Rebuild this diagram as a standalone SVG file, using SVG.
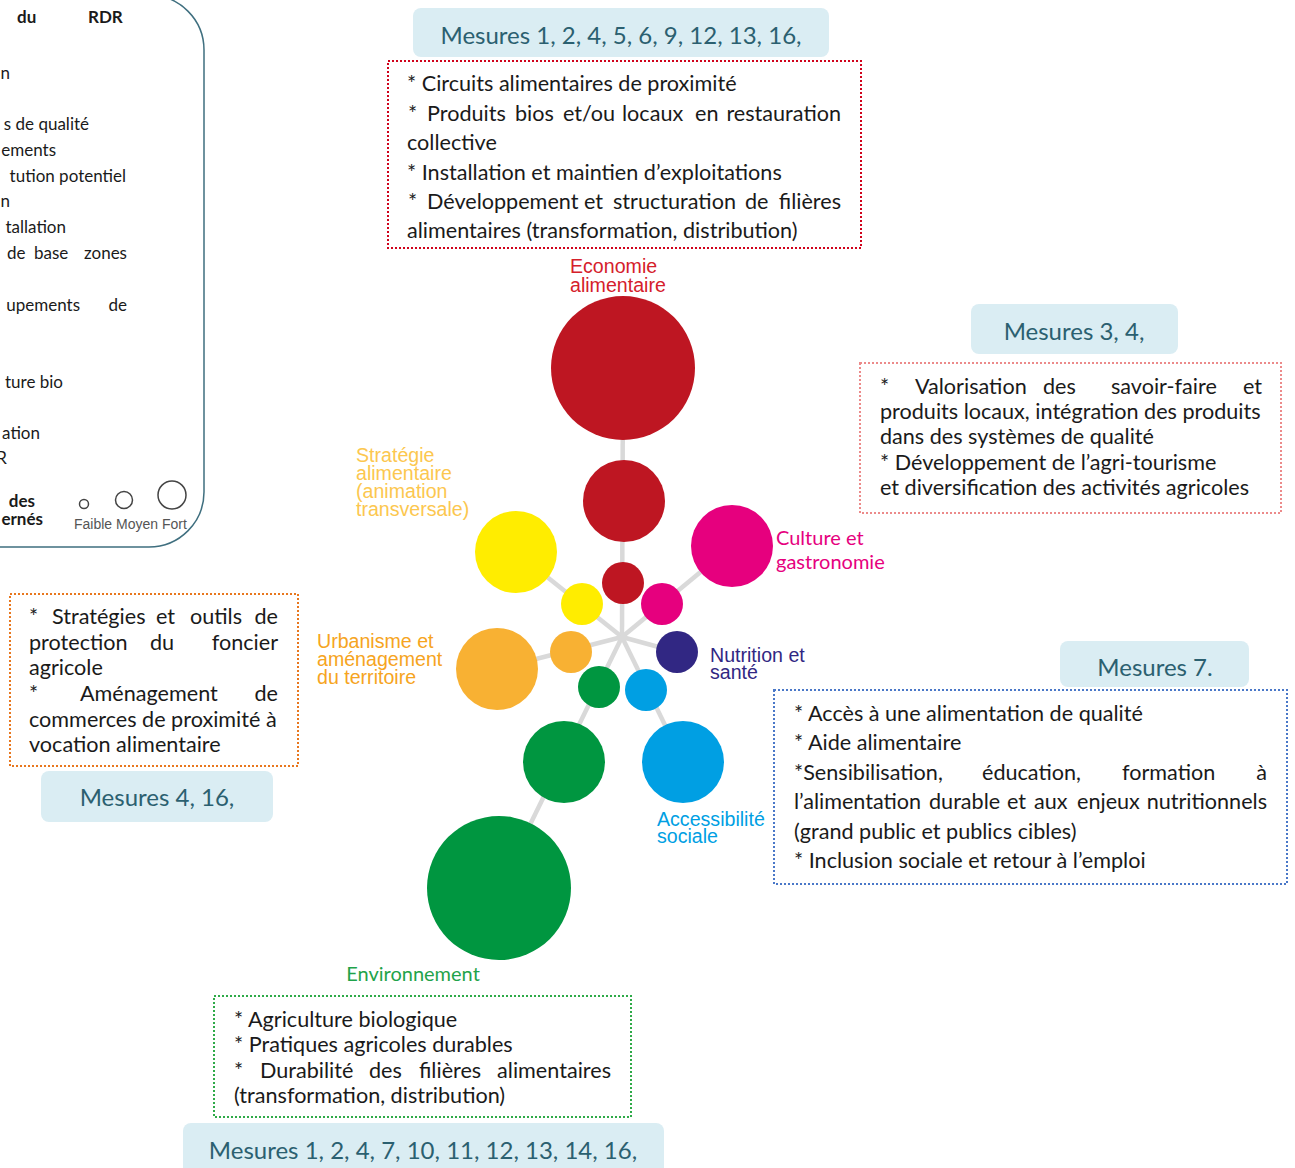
<svg xmlns="http://www.w3.org/2000/svg" width="1295" height="1168" viewBox="0 0 1295 1168">
<style>
.bt{font-family:Lato,"Liberation Sans",sans-serif;font-size:21.6px;fill:#1a1a1a}
.e{text-anchor:end}
.mr{fill:#daedf3}
.mt{font-family:Lato,"Liberation Sans",sans-serif;font-size:24px;fill:#2b6070;text-anchor:middle}
.lb{font-family:"Liberation Sans",Arial,sans-serif;font-size:19.6px}
.ll{font-family:Lato,"Liberation Sans",sans-serif;font-size:20px}
.pt{font-family:Lato,"Liberation Sans",sans-serif;font-size:17px;fill:#1a1a1a}
.pb{font-weight:bold}
.con line{stroke:#d9d9d9;stroke-width:4.5}
.dot{fill:none;stroke-width:2;stroke-dasharray:2 2}
.leg{fill:none;stroke:#444;stroke-width:1.5}
</style>

<g id="legend-panel">
<path d="M -10 -5 H 149 A 55 55 0 0 1 204 50 V 492 A 55 55 0 0 1 149 547 H -10" fill="none" stroke="#3f6f7f" stroke-width="1.5"/>
<text class="pt pb" x="17" y="23">du</text>
<text class="pt pb" x="88" y="23">RDR</text>
<text class="pt e" x="10" y="79">n</text>
<text class="pt e" x="89" y="130">s de qualité</text>
<text class="pt e" x="56" y="156">ements</text>
<text class="pt e" x="126" y="182">tution potentiel</text>
<text class="pt e" x="10" y="207">n</text>
<text class="pt e" x="66" y="233">tallation</text>
<text class="pt" x="7" y="259">de</text>
<text class="pt" x="34" y="259">base</text>
<text class="pt e" x="127" y="259">zones</text>
<text class="pt e" x="80" y="311">upements</text>
<text class="pt e" x="127" y="311">de</text>
<text class="pt e" x="63" y="388">ture bio</text>
<text class="pt e" x="40" y="439">ation</text>
<text class="pt e" x="7" y="464">R</text>
<text class="pt pb e" x="35" y="507">des</text>
<text class="pt pb e" x="43" y="525">ernés</text>
<circle class="leg" cx="84" cy="504" r="4.5"/>
<circle class="leg" cx="124" cy="500" r="8.5"/>
<circle class="leg" cx="172" cy="495" r="14"/>
<text x="74" y="529" font-family="Liberation Sans,Arial,sans-serif" font-size="14" fill="#555">Faible Moyen Fort</text>
</g>

<g id="connectors" class="con">
<line x1="622" y1="637" x2="623" y2="368"/>
<line x1="622" y1="637" x2="516" y2="552"/>
<line x1="622" y1="637" x2="732" y2="546"/>
<line x1="622" y1="637" x2="677" y2="652"/>
<line x1="622" y1="637" x2="497" y2="669"/>
<line x1="622" y1="637" x2="499" y2="888"/>
<line x1="622" y1="637" x2="683" y2="762"/>
</g>

<g id="economie">
<circle cx="623" cy="368" r="72" fill="#be1622"/>
<circle cx="624" cy="501" r="41" fill="#be1622"/>
<circle cx="623" cy="583" r="21" fill="#be1622"/>
<text class="lb" fill="#d5202b" x="570" y="273">Economie</text>
<text class="lb" fill="#d5202b" x="570" y="292">alimentaire</text>
</g>

<g id="strategie">
<circle cx="516" cy="552" r="41" fill="#ffed00"/>
<circle cx="582" cy="604" r="21" fill="#ffed00"/>
<text class="lb" fill="#fcc74f" x="356" y="462">Stratégie</text>
<text class="lb" fill="#fcc74f" x="356" y="480">alimentaire</text>
<text class="lb" fill="#fcc74f" x="356" y="498">(animation</text>
<text class="lb" fill="#fcc74f" x="356" y="516">transversale)</text>
</g>

<g id="culture">
<circle cx="732" cy="546" r="41" fill="#e6007e"/>
<circle cx="662" cy="604" r="21" fill="#e6007e"/>
<text class="ll" fill="#e6007e" x="776" y="545">Culture et</text>
<text class="ll" fill="#e6007e" x="776" y="569">gastronomie</text>
</g>

<g id="nutrition">
<circle cx="677" cy="652" r="21" fill="#312783"/>
<text class="lb" fill="#312783" x="710" y="662">Nutrition et</text>
<text class="lb" fill="#312783" x="710" y="679">santé</text>
</g>

<g id="urbanisme">
<circle cx="497" cy="669" r="41" fill="#f8b133"/>
<circle cx="571" cy="652" r="21" fill="#f8b133"/>
<text class="lb" fill="#f6a421" x="317" y="648">Urbanisme et</text>
<text class="lb" fill="#f6a421" x="317" y="666">aménagement</text>
<text class="lb" fill="#f6a421" x="317" y="684">du territoire</text>
</g>

<g id="environnement">
<circle cx="499" cy="888" r="72" fill="#009640"/>
<circle cx="564" cy="762" r="41" fill="#009640"/>
<circle cx="599" cy="687" r="21" fill="#009640"/>
<text class="ll" fill="#1fa34a" x="413" y="981" text-anchor="middle" font-size="21">Environnement</text>
</g>

<g id="accessibilite">
<circle cx="683" cy="762" r="41" fill="#009fe3"/>
<circle cx="646" cy="690" r="21" fill="#009fe3"/>
<text class="lb" fill="#009fe3" x="657" y="826">Accessibilité</text>
<text class="lb" fill="#009fe3" x="657" y="843">sociale</text>
</g>

<g id="box-economie">
<rect class="mr" x="413" y="8" width="416" height="49" rx="8"/>
<text class="mt" x="621" y="44">Mesures 1, 2, 4, 5, 6, 9, 12, 13, 16,</text>
<rect class="dot" x="388" y="61" width="473" height="187" stroke="#d0021b"/>
<text class="bt" x="407" y="91">* Circuits alimentaires de proximité</text>
<text class="bt" x="408" y="121">*</text>
<text class="bt" x="427" y="121">Produits</text>
<text class="bt" x="515" y="121">bios</text>
<text class="bt" x="563" y="121">et/ou</text>
<text class="bt" x="622" y="121">locaux</text>
<text class="bt" x="695" y="121">en</text>
<text class="bt e" x="841" y="121">restauration</text>
<text class="bt" x="407" y="150">collective</text>
<text class="bt" x="407" y="180">* Installation et maintien d’exploitations</text>
<text class="bt" x="408" y="209">*</text>
<text class="bt" x="427" y="209">Développement</text>
<text class="bt" x="584" y="209">et</text>
<text class="bt" x="613" y="209">structuration</text>
<text class="bt" x="745" y="209">de</text>
<text class="bt e" x="841" y="209">filières</text>
<text class="bt" x="407" y="238">alimentaires (transformation, distribution)</text>
</g>

<g id="box-culture">
<rect class="mr" x="971" y="304" width="207" height="50" rx="8"/>
<text class="mt" x="1074" y="340">Mesures 3, 4,</text>
<rect class="dot" x="860" y="363" width="421" height="150" stroke="#ec8a8a" stroke-width="1.5"/>
<text class="bt" x="880" y="394">*</text>
<text class="bt" x="915" y="394">Valorisation</text>
<text class="bt" x="1043" y="394">des</text>
<text class="bt" x="1111" y="394">savoir-faire</text>
<text class="bt e" x="1262" y="394">et</text>
<text class="bt" x="880" y="419">produits locaux, intégration des produits</text>
<text class="bt" x="880" y="444">dans des systèmes de qualité</text>
<text class="bt" x="880" y="470">* Développement de l’agri-tourisme</text>
<text class="bt" x="880" y="495">et diversification des activités agricoles</text>
</g>

<g id="box-urbanisme">
<rect class="dot" x="10" y="594" width="288" height="172" stroke="#e8771e"/>
<text class="bt" x="29" y="624">*</text>
<text class="bt" x="52" y="624">Stratégies</text>
<text class="bt" x="156" y="624">et</text>
<text class="bt" x="190" y="624">outils</text>
<text class="bt e" x="278" y="624">de</text>
<text class="bt" x="29" y="650">protection</text>
<text class="bt" x="150" y="650">du</text>
<text class="bt e" x="278" y="650">foncier</text>
<text class="bt" x="29" y="675">agricole</text>
<text class="bt" x="29" y="701">*</text>
<text class="bt" x="80" y="701">Aménagement</text>
<text class="bt e" x="278" y="701">de</text>
<text class="bt" x="29" y="727">commerces de proximité à</text>
<text class="bt" x="29" y="752">vocation alimentaire</text>
<rect class="mr" x="41" y="771" width="232" height="51" rx="8"/>
<text class="mt" x="157" y="806">Mesures 4, 16,</text>
</g>

<g id="box-accessibilite">
<rect class="mr" x="1060" y="641" width="189" height="46" rx="8"/>
<text class="mt" x="1155" y="676">Mesures 7.</text>
<rect class="dot" x="774" y="690" width="513" height="194" stroke="#4a78c8"/>
<text class="bt" x="794" y="721">* Accès à une alimentation de qualité</text>
<text class="bt" x="794" y="750">* Aide alimentaire</text>
<text class="bt" x="794" y="780">*Sensibilisation,</text>
<text class="bt" x="982" y="780">éducation,</text>
<text class="bt" x="1122" y="780">formation</text>
<text class="bt e" x="1267" y="780">à</text>
<text class="bt" x="794" y="809">l’alimentation</text>
<text class="bt" x="929" y="809">durable</text>
<text class="bt" x="1007" y="809">et</text>
<text class="bt" x="1034" y="809">aux</text>
<text class="bt" x="1077" y="809">enjeux</text>
<text class="bt e" x="1267" y="809">nutritionnels</text>
<text class="bt" x="794" y="839">(grand public et publics cibles)</text>
<text class="bt" x="794" y="868">* Inclusion sociale et retour à l’emploi</text>
</g>

<g id="box-environnement">
<rect class="dot" x="214" y="996" width="417" height="121" stroke="#2eaa48"/>
<text class="bt" x="234" y="1027">* Agriculture biologique</text>
<text class="bt" x="234" y="1052">* Pratiques agricoles durables</text>
<text class="bt" x="234" y="1078">*</text>
<text class="bt" x="260" y="1078">Durabilité</text>
<text class="bt" x="369" y="1078">des</text>
<text class="bt" x="419" y="1078">filières</text>
<text class="bt e" x="611" y="1078">alimentaires</text>
<text class="bt" x="234" y="1103">(transformation, distribution)</text>
<rect class="mr" x="183" y="1123" width="481" height="60" rx="8"/>
<text class="mt" x="423" y="1159">Mesures 1, 2, 4, 7, 10, 11, 12, 13, 14, 16,</text>
</g>
</svg>
